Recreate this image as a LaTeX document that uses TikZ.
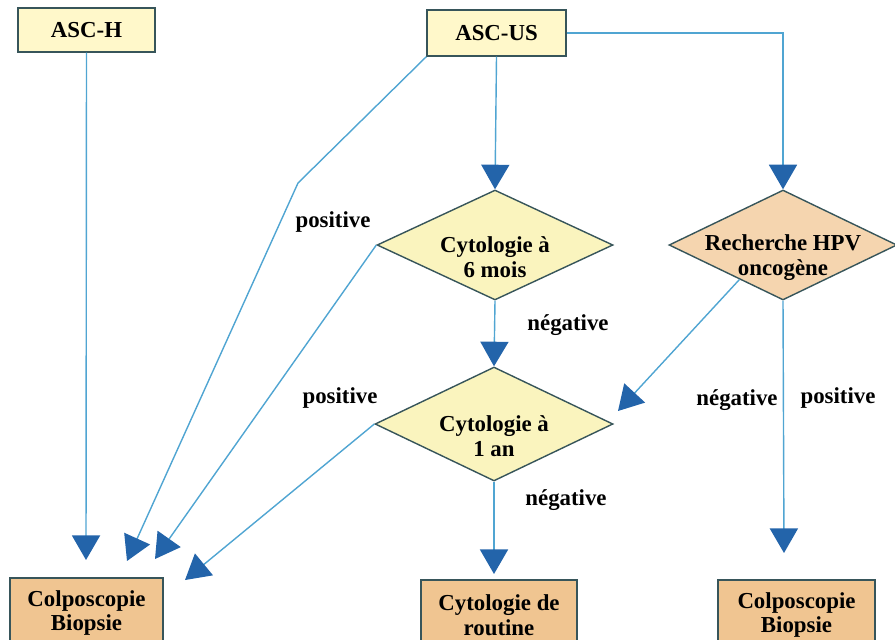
\documentclass[tikz,border=0pt]{standalone}
\usepackage{fontspec}
\setmainfont{Liberation Serif}
\usetikzlibrary{shapes.geometric,arrows.meta,calc}
\definecolor{lineblue}{RGB}{80,165,210}
\definecolor{tipblue}{RGB}{35,100,170}
\definecolor{edgegray}{RGB}{55,85,90}
\definecolor{paleyellow}{RGB}{255,248,202}
\definecolor{diayellow}{RGB}{250,244,190}
\definecolor{tanbox}{RGB}{240,197,145}
\definecolor{tandia}{RGB}{245,213,175}
\newcommand{\lowline}[1]{\raisebox{-7pt}[\height][\depth]{#1}}

\begin{document}
\begin{tikzpicture}[x=0.02cm,y=-0.02cm,
    every node/.style={font=\bfseries\fontsize{13}{14}\selectfont},
    box/.style={draw=edgegray,line width=0.8pt,align=center,inner sep=0pt},
    decision/.style={diamond,draw=edgegray,line width=0.8pt,align=center,inner sep=-6pt,aspect=2.15},
    flow/.style={draw=lineblue,line width=0.8pt,-{Triangle[length=14pt,width=16pt,color=tipblue]}}]
        \useasboundingbox (0,0) rectangle (895,639);
        % boxes
        \node[box,fill=paleyellow,minimum width=2.74cm,minimum height=0.88cm] (asch) at (86.5,30) {ASC-H};
        \node[box,fill=paleyellow,minimum width=2.78cm,minimum height=0.92cm] (ascus) at (496.5,33) {ASC-US};
        \node[box,fill=tanbox,minimum width=3.06cm,minimum height=1.4cm] (colpoL) at (86.5,613) {Colposcopie\\Biopsie};
        \node[box,fill=tanbox,minimum width=3.12cm,minimum height=1.4cm] (routine) at (499,615) {Cytologie de\\routine};
        \node[box,fill=tanbox,minimum width=3.14cm,minimum height=1.4cm] (colpoR) at (796.5,615) {Colposcopie\\Biopsie};
        % decisions
        \node[decision,fill=diayellow,minimum width=4.72cm,minimum height=2.2cm] (mois6) at (495,245) {\lowline{Cytologie à}\\\lowline{6 mois}};
        \node[decision,fill=diayellow,minimum width=4.76cm,minimum height=2.28cm] (an1) at (494,424) {\lowline{Cytologie à}\\\lowline{1 an}};
        \node[decision,fill=tandia,minimum width=4.56cm,minimum height=2.2cm] (hpv) at (783,245) {\lowline{Recherche HPV}\\\lowline{oncogène}};
        % free arrow ends
        \coordinate (t1) at (86,560);
        \coordinate (bend) at (298,183);
        \coordinate (t2) at (127,561);
        \coordinate (t3) at (155,559);
        \coordinate (t4) at (185,580);
        \coordinate (t5) at (618,411);
        \coordinate (t6) at (784,553);
        \coordinate (t7) at (494,574);
        % connectors
        \draw[flow] (asch.south) -- (t1);
        \draw[flow] (ascus.south west) -- (bend) -- (t2);
        \draw[flow] (mois6.west) -- (t3);
        \draw[flow] (an1.west) -- (t4);
        \draw[flow] (ascus.south) -- (mois6.north);
        \draw[flow] (ascus.east) -| (hpv.north);
        \draw[flow] (mois6.south) -- (an1.north);
        \draw[flow] ($(hpv.south)!0.38!(hpv.west)$) -- (t5);
        \draw[flow] (hpv.south) -- (t6);
        \draw[flow] (an1.south) -- (t7);
        % labels
        \node (pos1) at (333,222) {positive};
        \node (pos2) at (340,398) {positive};
        \node (neg1) at (568,325) {négative};
        \node (neg2) at (737,400) {négative};
        \node (pos3) at (838,398) {positive};
        \node (neg3) at (566,500) {négative};
\end{tikzpicture}
\end{document}
